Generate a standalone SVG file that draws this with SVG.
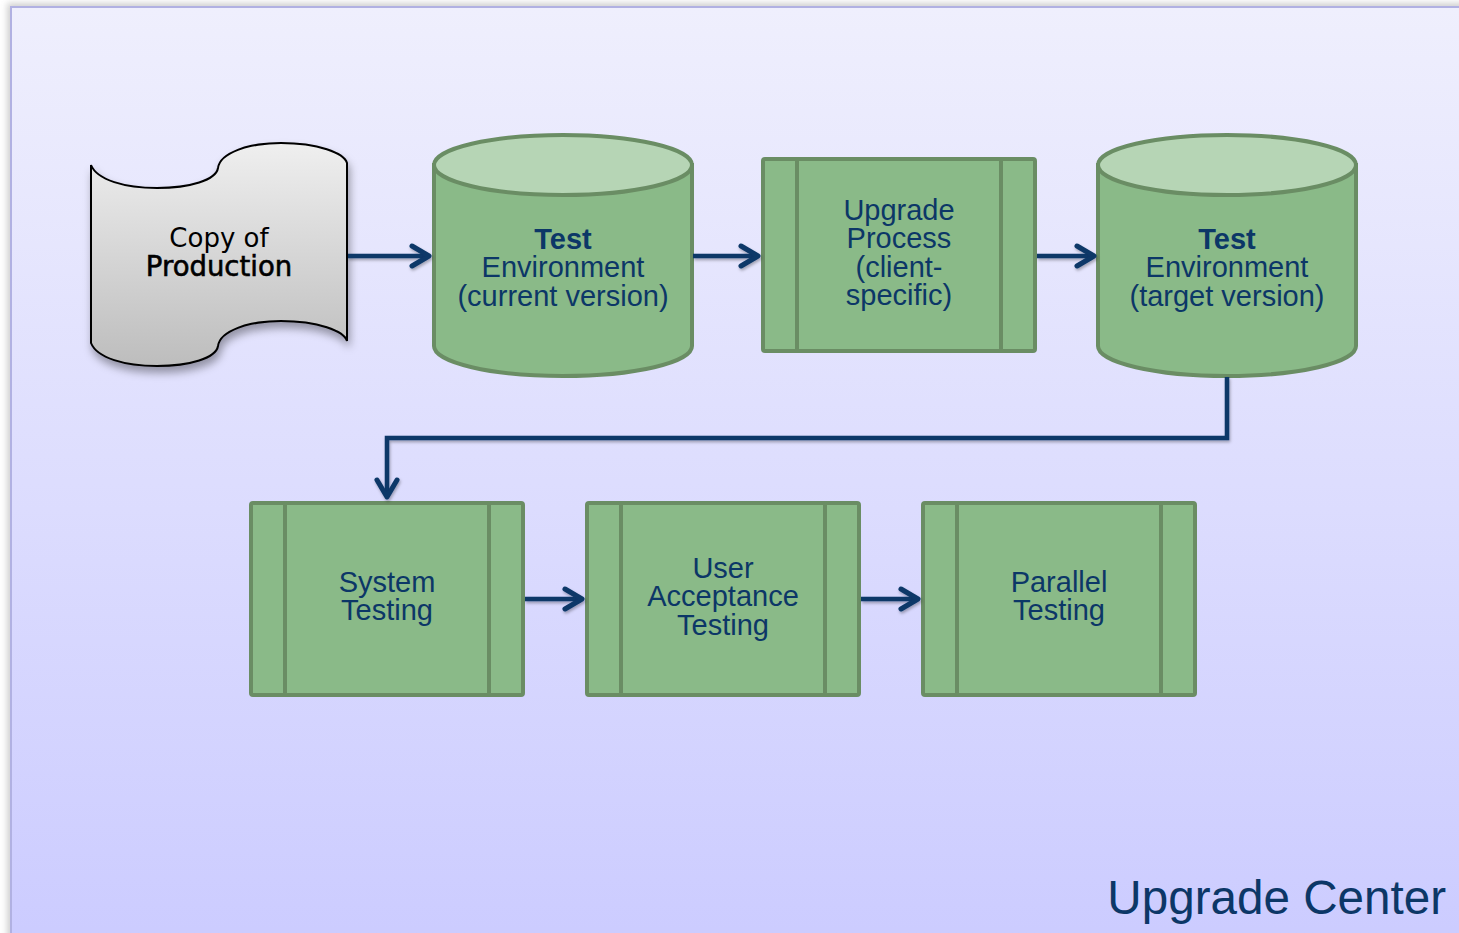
<svg xmlns="http://www.w3.org/2000/svg" width="1459" height="933" viewBox="0 0 1459 933">
  <defs>
    <linearGradient id="slideBg" x1="0" y1="0" x2="0" y2="1">
      <stop offset="0" stop-color="#efeffd"/>
      <stop offset="1" stop-color="#cbcbff"/>
    </linearGradient>
    <linearGradient id="docFill" x1="0" y1="0" x2="0" y2="1">
      <stop offset="0" stop-color="#efefef"/>
      <stop offset="1" stop-color="#bdbdbd"/>
    </linearGradient>
    <filter id="pageShadow" x="-5%" y="-5%" width="110%" height="110%">
      <feGaussianBlur stdDeviation="3"/>
    </filter>
    <filter id="docShadow" x="-20%" y="-20%" width="140%" height="150%">
      <feDropShadow dx="2" dy="6" stdDeviation="4" flood-color="#000" flood-opacity="0.35"/>
    </filter>
    <filter id="lineShadow" x="-20%" y="-50%" width="140%" height="200%">
      <feDropShadow dx="1" dy="2" stdDeviation="1.5" flood-color="#000" flood-opacity="0.3"/>
    </filter>
    <marker id="chevron" viewBox="-22 -14 28 28" refX="0" refY="0" markerWidth="28" markerHeight="28" markerUnits="userSpaceOnUse" orient="auto">
      <path d="M-17,-10 L0,0 L-17,10" fill="none" stroke="#0c3767" stroke-width="5" stroke-linecap="round" stroke-linejoin="round"/>
    </marker>
    <style>
      .cyl-body { fill: #8aba88; stroke: #6a8d64; stroke-width: 4; }
      .cyl-top { fill: #b6d5b5; stroke: #6a8d64; stroke-width: 4; }
      .proc { fill: #8aba88; stroke: #6a8d64; stroke-width: 4; }
      .proc-bar { stroke: #6a8d64; stroke-width: 4; }
      .lbl { font-family: "Liberation Sans", Arial, sans-serif; font-size: 29px; fill: #0c3767; text-anchor: middle; }
      .lbl-b { font-weight: bold; }
      .doc-lbl { font-family: "DejaVu Sans", Verdana, sans-serif; font-size: 26px; fill: #000; text-anchor: middle; }
      .doc-lbl-strong { font-size: 27.5px; stroke: #000; stroke-width: 0.6px; }
      .conn { fill: none; stroke: #0c3767; stroke-width: 4.5; stroke-linejoin: miter; marker-end: url(#chevron); }
    </style>
  </defs>

  <!-- slide backdrop -->
  <rect x="0" y="0" width="1459" height="933" fill="#ffffff"/>
  <rect x="7" y="3" width="1470" height="950" fill="#9a9a9a" opacity="0.45" filter="url(#pageShadow)"/>
  <rect x="11" y="7" width="1470" height="950" fill="url(#slideBg)" stroke="#b1b1e2" stroke-width="2"/>

  <!-- source data: copy of production -->
  <g id="copy-of-production">
    <path d="M91,165 C97,180 125,188 157,188 C190,188 216,180 218,168 C220,153 248,143 281,143 C318,143 344,153 347,163 L347,341 C344,331 318,321 281,321 C248,321 220,331 218,346 C216,358 190,366 157,366 C125,366 97,358 91,343 Z" fill="url(#docFill)" stroke="#000" stroke-width="2" filter="url(#docShadow)"/>
    <text class="doc-lbl" x="219" y="247">Copy of</text>
    <text class="doc-lbl doc-lbl-strong" x="219" y="276">Production</text>
  </g>

  <!-- test environment, current version -->
  <g id="test-env-current">
    <path class="cyl-body" d="M434,165 L434,346 A129,30 0 0 0 692,346 L692,165 Z"/>
    <ellipse class="cyl-top" cx="563" cy="165" rx="129" ry="30"/>
    <text class="lbl lbl-b" x="563" y="249">Test</text>
    <text class="lbl" x="563" y="277">Environment</text>
    <text class="lbl" x="563" y="306">(current version)</text>
  </g>

  <!-- upgrade process -->
  <g id="upgrade-process">
    <rect class="proc" x="763" y="159" width="272" height="192" rx="2"/>
    <line class="proc-bar" x1="797" y1="159" x2="797" y2="351"/>
    <line class="proc-bar" x1="1001" y1="159" x2="1001" y2="351"/>
    <text class="lbl" x="899" y="220">Upgrade</text>
    <text class="lbl" x="899" y="248">Process</text>
    <text class="lbl" x="899" y="277">(client-</text>
    <text class="lbl" x="899" y="305">specific)</text>
  </g>

  <!-- test environment, target version -->
  <g id="test-env-target">
    <path class="cyl-body" d="M1098,165 L1098,346 A129,30 0 0 0 1356,346 L1356,165 Z"/>
    <ellipse class="cyl-top" cx="1227" cy="165" rx="129" ry="30"/>
    <text class="lbl lbl-b" x="1227" y="249">Test</text>
    <text class="lbl" x="1227" y="277">Environment</text>
    <text class="lbl" x="1227" y="306">(target version)</text>
  </g>

  <!-- system testing -->
  <g id="system-testing">
    <rect class="proc" x="251" y="503" width="272" height="192" rx="2"/>
    <line class="proc-bar" x1="285" y1="503" x2="285" y2="695"/>
    <line class="proc-bar" x1="489" y1="503" x2="489" y2="695"/>
    <text class="lbl" x="387" y="592">System</text>
    <text class="lbl" x="387" y="620">Testing</text>
  </g>

  <!-- user acceptance testing -->
  <g id="user-acceptance-testing">
    <rect class="proc" x="587" y="503" width="272" height="192" rx="2"/>
    <line class="proc-bar" x1="621" y1="503" x2="621" y2="695"/>
    <line class="proc-bar" x1="825" y1="503" x2="825" y2="695"/>
    <text class="lbl" x="723" y="578">User</text>
    <text class="lbl" x="723" y="606">Acceptance</text>
    <text class="lbl" x="723" y="635">Testing</text>
  </g>

  <!-- parallel testing -->
  <g id="parallel-testing">
    <rect class="proc" x="923" y="503" width="272" height="192" rx="2"/>
    <line class="proc-bar" x1="957" y1="503" x2="957" y2="695"/>
    <line class="proc-bar" x1="1161" y1="503" x2="1161" y2="695"/>
    <text class="lbl" x="1059" y="592">Parallel</text>
    <text class="lbl" x="1059" y="620">Testing</text>
  </g>

  <!-- flow connectors -->
  <g id="connectors" filter="url(#lineShadow)">
    <path class="conn" d="M348,256 L429,256"/>
    <path class="conn" d="M693,256 L758,256"/>
    <path class="conn" d="M1037,256 L1094,256"/>
    <path class="conn" d="M1227,377 L1227,438 L387,438 L387,497"/>
    <path class="conn" d="M525,599 L582,599"/>
    <path class="conn" d="M861,599 L918,599"/>
  </g>

  <!-- slide title -->
  <text x="1446" y="914" font-family="'Liberation Sans', Arial, sans-serif" font-size="47.6" fill="#0c3767" text-anchor="end">Upgrade Center</text>
</svg>
